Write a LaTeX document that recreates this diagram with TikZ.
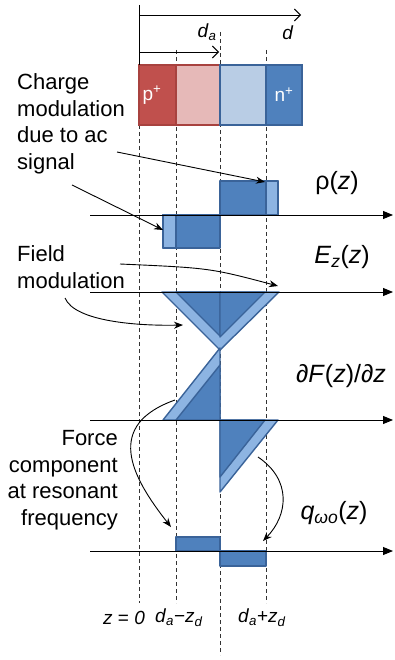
\documentclass[tikz,border=0pt]{standalone}
\usepackage{fontspec}
\setmainfont{Liberation Sans}
\usetikzlibrary{arrows.meta}
\definecolor{pdark}{HTML}{C0504D}
\definecolor{plight}{HTML}{E6B9B8}
\definecolor{pedge}{HTML}{A8423F}
\definecolor{ndark}{HTML}{4F81BD}
\definecolor{nlight}{HTML}{B9CDE5}
\definecolor{nedge}{HTML}{3A6399}
\definecolor{stripe}{HTML}{8DB4E2}
\definecolor{guide}{HTML}{333333}
\newcommand{\itx}[1]{\textit{#1}}
\newcommand{\sbs}[1]{\textsubscript{\textit{#1}}}

\begin{document}
\begin{tikzpicture}[x=1pt,y=-1pt,
  guideline/.style={guide,line width=0.9pt,dash pattern=on 4pt off 3pt},
  blk/.style={fill=ndark,draw=nedge,line width=1.4pt,line join=round},
  strp/.style={fill=stripe,draw=nedge,line width=1.4pt,line join=round},
  axis/.style={line width=0.9pt,-{Triangle[length=10pt,width=8pt]}},
  callout/.style={line width=0.9pt,-{Stealth[length=9pt,width=7pt]}},
  dim/.style={line width=0.9pt,-{Straight Barb[length=6pt,width=12pt]}},
  lbl/.style={font=\fontsize{22}{26.5}\selectfont,align=left,inner sep=0pt},
  fn/.style={font=\fontsize{25}{29}\selectfont,inner sep=0pt},
  small/.style={font=\fontsize{19}{22}\selectfont,inner sep=0pt}]
\useasboundingbox (0,0) rectangle (394,660);
\foreach \x/\a/\b in {139/125/603,176/50/603,220/32/655,266/50/603}
{
  \draw[guideline] (\x,\a) -- (\x,\b);
}
% device
\draw[line width=1.8pt,draw=pedge,fill=pdark] (139,65) rectangle (176,125);
\draw[line width=1.8pt,draw=pedge,fill=plight] (176,65) rectangle (220,125);
\draw[line width=1.8pt,draw=nedge,fill=nlight] (220,65) rectangle (266,125);
\draw[line width=1.8pt,draw=nedge,fill=ndark] (266,65) rectangle (302,125);
\node[small,text=white] (pp) at (152,95) {p\textsuperscript{+}};
\node[small,text=white] (nn) at (284,95) {n\textsuperscript{+}};
\coordinate (top) at (139,5);
\coordinate (bot) at (139,65);
\coordinate (z0) at (139,15);
\coordinate (dend) at (301,15);
\coordinate (a0) at (139,52);
\coordinate (aend) at (219,52);
\draw[line width=0.9pt] (top) -- (bot);
\draw[dim] (z0) -- (dend);
\draw[dim] (a0) -- (aend);
\node[small] (da) at (207,32) {\itx{d}\sbs{a}};
\node[small] (dd) at (288,33) {\itx{d}};
% rho
\draw[blk] (220,181) rectangle (278,215);
\draw[strp] (266,181) rectangle (278,215);
\draw[blk] (163,215) rectangle (220,248);
\draw[strp] (163,215) rectangle (176,248);
% field
\draw[strp] (162,292) -- (279,292) -- (220,350) -- cycle;
\draw[blk] (176,292) -- (220,292) -- (220,336) -- cycle;
\draw[blk] (220,292) -- (265,292) -- (220,337) -- cycle;
% force gradient
\draw[strp] (163,420) -- (220,420) -- (220,348) -- cycle;
\draw[blk] (176,420) -- (220,420) -- (220,365) -- cycle;
\draw[strp] (220,420) -- (278,420) -- (220,492) -- cycle;
\draw[blk] (220,420) -- (265,420) -- (220,477) -- cycle;
% resonant component
\draw[blk] (176,537) rectangle (220,551);
\draw[blk] (220,551) rectangle (266,566);
\foreach \y in {215,292,420,551}
{
  \draw[axis] (90,\y) -- (393,\y);
}
\node[fn] (rho) at (337,183) {ρ(\itx{z})};
\node[fn] (ez) at (342,257) {\itx{E}\sbs{z}(\itx{z})};
\node[fn] (df) at (341,376) {\itx{∂F}(\itx{z})/\itx{∂z}};
\node[fn] (qw) at (334,513) {\itx{q}\sbs{ωo}(\itx{z})};
\node[lbl,anchor=west] (charge) at (17,124) {Charge\\modulation\\due to ac\\signal};
\node[lbl,anchor=west] (field) at (17,267) {Field\\modulation};
\node[lbl,align=right,anchor=east] (force) at (118,480) {Force\\component\\at resonant\\frequency};
\node[small] (zz) at (124,618) {\itx{z} = \itx{0}};
\node[small] (dm) at (179,618) {\itx{d}\sbs{a}−\itx{z}\sbs{d}};
\node[small] (dp) at (262,618) {\itx{d}\sbs{a}+\itx{z}\sbs{d}};
\coordinate (c1) at (117,152);
\coordinate (c1e) at (265,182);
\coordinate (c2) at (72,185);
\coordinate (c2e) at (163,230);
\coordinate (f1) at (120,264);
\coordinate (f1e) at (278,286);
\coordinate (f2) at (65,298);
\coordinate (f2e) at (183,325);
\coordinate (r1) at (175,400);
\coordinate (r1e) at (171,527);
\coordinate (r2) at (258,457);
\coordinate (r2e) at (263,541);
\draw[callout] (c1) -- (c1e);
\draw[callout] (c2) -- (c2e);
\draw[callout] (f1) .. controls (210,268) .. (f1e);
\draw[callout] (f2) .. controls (75,322) and (140,326) .. (f2e);
\draw[callout] (r1) .. controls (105,425) and (130,475) .. (r1e);
\draw[callout] (r2) .. controls (292,480) and (288,515) .. (r2e);
\end{tikzpicture}
\end{document}
